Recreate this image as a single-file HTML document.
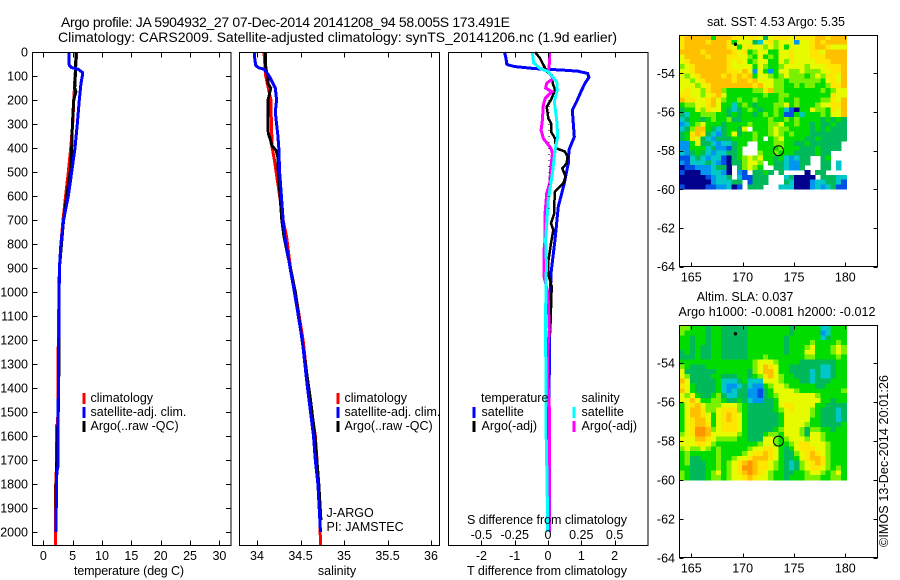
<!DOCTYPE html>
<html>
<head>
<meta charset="utf-8">
<style>
html,body{margin:0;padding:0;background:#fff;}
svg{display:block;}
text{font-family:"Liberation Sans",sans-serif;font-size:12.5px;fill:#000;}
.mid{text-anchor:middle;}
.end{text-anchor:end;}
.title{font-size:14px;}
.line{fill:none;shape-rendering:crispEdges;}
.crisp{shape-rendering:crispEdges;}
</style>
</head>
<body>
<svg id="chart" xmlns="http://www.w3.org/2000/svg" width="900" height="580" viewBox="0 0 900 580">
  <rect width="900" height="580" fill="#fff"/>
  <text class="title" x="61" y="27" textLength="449">Argo profile: JA 5904932_27 07-Dec-2014 20141208_94 58.005S 173.491E</text>
  <text class="title" x="58" y="42" textLength="559">Climatology: CARS2009. Satellite-adjusted climatology: synTS_20141206.nc (1.9d earlier)</text>

  <g id="layer-maps"></g>
  <g id="layer-lines"></g>
  <g id="layer-axes"></g>

  <text class="mid" x="129" y="575" textLength="110">temperature (deg C)</text>
  <text class="mid" x="337" y="575">salinity</text>
  <text class="mid" x="547" y="575" textLength="160">T difference from climatology</text>
  <text class="mid" x="547" y="524" textLength="160">S difference from climatology</text>

  <g>
    <rect class="crisp" x="82.5" y="393" width="3" height="11" fill="#ff0000"/>
    <rect class="crisp" x="82.5" y="407" width="3" height="11" fill="#0000ff"/>
    <rect class="crisp" x="82.5" y="421" width="3" height="11" fill="#000"/>
    <text x="90.5" y="402">climatology</text>
    <text x="90.5" y="416">satellite-adj. clim.</text>
    <text x="90.5" y="430">Argo(..raw -QC)</text>
  </g>
  <g>
    <rect class="crisp" x="336.5" y="393" width="3" height="11" fill="#ff0000"/>
    <rect class="crisp" x="336.5" y="407" width="3" height="11" fill="#0000ff"/>
    <rect class="crisp" x="336.5" y="421" width="3" height="11" fill="#000"/>
    <text x="344.5" y="402">climatology</text>
    <text x="344.5" y="416">satellite-adj. clim.</text>
    <text x="344.5" y="430">Argo(..raw -QC)</text>
  </g>
  <g>
    <text x="481" y="402">temperature</text>
    <text x="581.5" y="402">salinity</text>
    <rect class="crisp" x="472.5" y="407" width="3" height="11" fill="#0000ff"/>
    <rect class="crisp" x="472.5" y="421" width="3" height="11" fill="#000"/>
    <rect class="crisp" x="572.5" y="407" width="3" height="11" fill="#00ffff"/>
    <rect class="crisp" x="572.5" y="421" width="3" height="11" fill="#ff00ff"/>
    <text x="481.5" y="416">satellite</text>
    <text x="481.5" y="430">Argo(-adj)</text>
    <text x="581.5" y="416">satellite</text>
    <text x="581.5" y="430">Argo(-adj)</text>
  </g>
  <text x="326.5" y="517">J-ARGO</text>
  <text x="326.5" y="531">PI: JAMSTEC</text>

  <text class="mid" x="776" y="26" textLength="138">sat. SST: 4.53 Argo: 5.35</text>
  <text class="mid" x="745" y="301">Altim. SLA: 0.037</text>
  <text class="mid" x="777" y="316" textLength="197">Argo h1000: -0.0081 h2000: -0.012</text>
  <text x="0" y="0" transform="translate(888,547) rotate(-90)" textLength="172">©IMOS 13-Dec-2014 20:01:26</text>
</svg>

<script>
// ---- axis ticks ----
const depthTicks = [0,100,200,300,400,500,600,700,800,900,1000,1100,1200,1300,1400,1500,1600,1700,1800,1900,2000];
const tempTicks = [0,5,10,15,20,25,30];
const salTicks = [34,34.5,35,35.5,36];
const diffTTicks = [-2,-1,0,1,2];
const diffSTickLabels = ['-0.5','-0.25','0','0.25','0.5'];
const diffSTicks = [-0.5,-0.25,0,0.25,0.5];
const lonTicks = [165,170,175,180];
const latTicks = [54,56,58,60,62,64];

// ---- temperature profiles ----
const tClimDepth = [0,100,200,300,400,500,600,700,800,900,1000,1200,1400,1550,1555,1800,1805,2054];
const tClimVal = [5.7,5.4,5.2,5.0,4.67,4.26,3.8,3.35,3.0,2.75,2.67,2.55,2.5,2.45,2.25,2.2,2.05,2.05];
const tSatDepth = [0,30,55,65,72,85,100,130,200,300,400,500,600,700,800,900,1400,1725,1750,2000];
const tSatVal = [4.43,4.35,4.43,4.83,5.96,6.65,6.65,6.42,6.14,5.8,5.4,4.84,4.26,3.45,3.0,2.75,2.55,2.5,2.3,2.15];
const tArgoDepth = [0,100,150,165,200,300,400,500,600,700,900,1000,1450,1600,1850,2000];
const tArgoVal = [5.57,5.45,5.35,5.55,5.18,4.95,4.84,4.6,4.0,3.45,2.75,2.67,2.62,2.4,2.15,2.15];

// ---- salinity profiles ----
const sClimDepth = [0,50,100,150,200,300,400,450,500,550,600,700,770,900,1000,1200,1400,1500,1600,1700,1800,1900,2054];
const sClimVal = [34.08,34.09,34.1,34.13,34.16,34.165,34.175,34.2,34.22,34.24,34.26,34.3,34.34,34.385,34.44,34.53,34.59,34.63,34.67,34.69,34.7,34.72,34.73];
const sSatDepth = [0,30,55,65,72,85,100,150,200,250,300,350,400,500,600,700,770,900,1000,1200,1400,1500,1600,1700,1800,1900,2000];
const sSatVal = [33.97,33.975,33.985,34.015,34.08,34.11,34.14,34.21,34.225,34.21,34.225,34.24,34.25,34.26,34.28,34.3,34.32,34.38,34.43,34.52,34.58,34.615,34.65,34.67,34.7,34.715,34.73];
const sArgoDepth = [0,60,85,100,130,150,180,200,300,340,370,390,410,440,500,600,700,770,1000,1450,1600,1800,1950];
const sArgoVal = [34.1,34.1,34.11,34.13,34.125,34.157,34.14,34.126,34.126,34.13,34.157,34.17,34.22,34.24,34.245,34.265,34.285,34.31,34.44,34.615,34.665,34.71,34.735];

// ---- difference profiles ----
const dtSatDepth = [0,26,50,54,61,68,72,75,80,89,105,130,165,207,242,297,353,408,464,547,644,783,922,1089,1436,2000];
const dtSatVal = [-1.31,-1.26,-1.24,-1.19,-0.99,-0.49,-0.09,0.41,0.9,1.19,1.23,1.11,0.99,0.86,0.73,0.76,0.79,0.63,0.61,0.49,0.31,0.21,0.09,0.06,0.03,0.02];
const dtArgoDepth = [0,26,61,82,96,130,158,200,228,276,297,332,360,401,415,436,464,485,519,547,582,631,672,714,742,797,880,922,977,1158,1227,1400,2000];
const dtArgoVal = [-0.39,-0.24,-0.11,-0.04,0.11,0.14,0.21,0.09,-0.04,0.01,0.09,0.09,0.21,0.24,0.51,0.59,0.56,0.43,0.53,0.46,0.21,0.19,0.19,0.09,0.16,0.09,0.0,0.0,0.11,0.07,-0.01,0.0,0.0];
const dsSatDepth = [0,45,68,82,124,158,207,283,353,408,506,617,783,880,1089,1436,1561,1797,2000];
const dsSatVal = [-0.118,-0.108,-0.06,0.002,0.065,0.07,0.047,0.065,0.073,0.053,0.033,0.002,-0.018,-0.012,-0.018,-0.016,-0.015,-0.007,-0.002];
const dsArgoDepth = [0,45,82,110,130,151,165,193,221,283,325,360,401,422,478,547,589,672,783,825,936,1006,1158,1250,1350,1480,2000];
const dsArgoVal = [0.013,0.011,0.002,0.04,-0.01,-0.018,0.03,-0.02,-0.035,-0.042,-0.052,-0.035,0.022,0.033,0.022,0.013,-0.01,-0.022,-0.022,-0.03,-0.03,0,0.01,-0.003,-0.003,0.01,0.01];
const dotDepth = [200,225,250,275,300,325,350,375,400,425,450,475,500,525,550,600,650];
const dotVal = [0.005,0.005,0.005,0.005,0.005,0.004,0.003,0.003,0.003,0.003,0.003,0.003,0.003,0.003,0.003,0.003,0.003];

// ---- map colour levels (hex digit indexes this palette) ----
const mapPalette = ['#00008c','#0050e6','#0096f0','#00c8c8','#00b95a','#00dc00','#78f000','#e6fa00','#ffc000','#ff9600','#ffe600'];
const sstGrid = [
'a8888858 88aa7aa7 47aaa7aa aa88a888',
'a8888a88 8a577743 7a677727 7a8a8888',
'a8888888 8a757a77 67675777 7a88a777',
'8888a888 88a7a567 75577a77 7aa78888',
'78888a88 8aa77657 56577a77 7aaa8888',
'7a888888 8a7a7567 75576a77 77aaa888',
'67a88888 8a777757 65567777 6777aaa8',
'77a88888 8aa78727 52577667 66677aa8',
'767a8888 a8a8a857 76567666 5676aa78',
'7767a888 88a88a87 77665666 66657a78',
'77767a88 888888a8 77665565 66556aa8',
'7a776a88 65555566 a8665555 55565677',
'aa7767a8 75555555 65566555 55555a77',
'8aa77a87 65565565 55565565 55566a78',
'56677a87 55356545 55667565 55677aa8',
'45576a77 54345654 55653105 57665a78',
'43556665 54545545 65651153 55565778',
'34554565 56445555 56556565 55545454',
'23567555 45555655 56675565 54544544',
'34688543 45547.55 56766555 54545444',
'45a8a432 45745565 56765655 54444444',
'45a74324 44555565 .5675555 44544444',
'22574432 33455..5 55665544 5444444.',
'22555342 2145...5 55565554 4454444.',
'32454323 3445...6 55655544 44544...',
'11343233 10456767 55453234 4..45...',
'21333432 10446776 .5443224 4..44.3.',
'01122234 40.46765 ..443224 ...44.3.',
'10002233 20.21.44 54.4.... 0.44....',
'00000123 34.31144 4...3400 00.44433',
'00000023 3344.144 4...4300 02334431',
'10000112 2301.444 ...33300 02323411'
];
const slaGrid = [
'6655 5455 4444 4555 5555 5455 5553 3555',
'6555 5455 4444 4555 5555 5455 5552 3555',
'5545 5455 4444 4555 5555 4555 5553 4555',
'5545 5455 4444 4555 5555 4555 5655 5565',
'5545 4455 4444 4555 5555 4555 6755 5676',
'4545 4455 4444 4555 5555 4555 7755 5676',
'4445 4455 4444 4555 6555 5555 6655 5565',
'5555 5555 5555 5567 7765 5554 4444 4455',
'6544 4555 5555 5567 8a75 5444 4443 3455',
'7444 4445 5555 5467 8875 5444 4343 3455',
'7644 4455 4445 5456 a876 5544 4343 3455',
'8744 4445 3334 5333 7776 5554 4344 4555',
'a754 4445 3223 4322 5677 6555 5544 5555',
'8754 4445 3234 4221 4577 7765 5555 5556',
'7675 4456 4334 4221 4567 7777 7765 5555',
'7787 5566 5445 4322 4457 7777 7775 5455',
'57a8 7666 7776 5444 4457 aa77 7755 4444',
'5788 a667 aaa6 5444 4456 7a77 7654 4434',
'5788 a757 a8a7 5444 4445 7777 7654 4434',
'57a8 8757 a8a7 5444 4445 7777 7554 4434',
'57a8 8a57 aaa7 5444 4445 7777 6554 4445',
'57a9 9867 aaa7 5444 4456 7776 4665 5455',
'67a9 9877 7776 5444 5665 7776 4776 5555',
'7778 8a76 6665 5444 7765 6777 6776 5555',
'777a a765 5555 5556 7765 567a a777 6555',
'6766 7656 5555 5677 aa75 457a aa77 6555',
'5655 5556 5555 67aa 8a75 4467 a8a7 6555',
'5644 5556 5567 7a88 8a75 4457 a88a 6555',
'5644 4556 567a 898a a765 4346 7a8a 6555',
'5544 4556 567a 998a a765 4346 7aa7 6565',
'6544 4567 567a 898a 7655 4455 6776 5675',
'6544 4566 5677 a8a7 7655 4555 6665 5665'
];

// ---- float positions ----
const profileLon = [173.491];
const profileLat = [58.005];
const otherLon = [169.3];
const otherLat = [52.5];

// ---- axis functions ----
const NS = 'http://www.w3.org/2000/svg';
const yDepth = d => 52 + d * 0.24;
const xTemp = v => 43.3 + v * 5.87;
const xSal = v => 257 + (v - 34) * 87;
const xDiffT = v => 548 + v * 33.3;
const xDiffS = v => 548 + v * 133.2;
const xLon = v => 691.3 + (v - 165) * 10.27;
const ySst = v => 73.3 + (v - 54) * 19.33;
const ySla = v => 363 + (v - 54) * 19.5;

const axes = document.getElementById('layer-axes');
const lines = document.getElementById('layer-lines');
const maps = document.getElementById('layer-maps');

function svgEl(tag, parent) {
  const el = document.createElementNS(NS, tag);
  parent.appendChild(el);
  return el;
}
function drawText(str, x, y, cls, name) {
  const t = svgEl('text', axes);
  t.setAttribute('x', x);
  t.setAttribute('y', y);
  if (cls) t.setAttribute('class', cls);
  t.textContent = str;
  
  
}
function drawTick(x1, y1, x2, y2, name) {
  const l = svgEl('line', axes);
  l.setAttribute('x1', x1);
  l.setAttribute('y1', y1);
  l.setAttribute('x2', x2);
  l.setAttribute('y2', y2);
  l.setAttribute('stroke', '#000');
  l.setAttribute('class', 'crisp');
  
  
}
function drawFrame(x, y, w, h, name) {
  const r = svgEl('rect', axes);
  r.setAttribute('x', x);
  r.setAttribute('y', y);
  r.setAttribute('width', w);
  r.setAttribute('height', h);
  r.setAttribute('fill', 'none');
  r.setAttribute('stroke', '#000');
  r.setAttribute('class', 'crisp');
  
  
}
function drawSeries(vals, depths, xf, color, width, name) {
  const p = svgEl('polyline', lines);
  p.setAttribute('points', vals.map((v, i) => xf(v).toFixed(1) + ',' + yDepth(depths[i]).toFixed(1)).join(' '));
  p.setAttribute('stroke', color);
  p.setAttribute('stroke-width', width);
  p.setAttribute('class', 'line');
  
  
}
function drawGrid(rows, top, bottom, name) {
  const west = 163.85, east = 180.1;
  const clean = rows.map(r => r.replace(/ /g, ''));
  const ny = clean.length;
  clean.forEach((row, j) => {
    const nx = row.length;
    for (let i = 0; i < nx; i++) {
      const c = row[i];
      if (c === '.') continue;
      const x0 = xLon(west + (east - west) * i / nx);
      const x1 = xLon(west + (east - west) * (i + 1) / nx);
      const y0 = top + (bottom - top) * j / ny;
      const y1 = top + (bottom - top) * (j + 1) / ny;
      const r = svgEl('rect', maps);
      r.setAttribute('x', x0.toFixed(2));
      r.setAttribute('y', y0.toFixed(2));
      r.setAttribute('width', (x1 - x0 + 0.4).toFixed(2));
      r.setAttribute('height', (y1 - y0 + 0.4).toFixed(2));
      r.setAttribute('fill', mapPalette[parseInt(c, 16)]);
      r.setAttribute('class', 'crisp');
      
      
    }
  });
}
function drawMarker(lon, lat, yf, r, fill, name) {
  const c = svgEl('circle', axes);
  c.setAttribute('cx', xLon(lon));
  c.setAttribute('cy', yf(lat));
  c.setAttribute('r', r);
  c.setAttribute('fill', fill);
  c.setAttribute('stroke', '#000');
  
  
}

// ---- profile panels ----
const pTop = 52.5, pBot = 545.5;
drawFrame(32.5, pTop, 198.5, pBot - pTop, 'temperature-panel-frame');
drawFrame(239.5, pTop, 200, pBot - pTop, 'salinity-panel-frame');
drawFrame(448.5, pTop, 199.5, pBot - pTop, 'difference-panel-frame');

depthTicks.forEach(d => {
  const y = Math.round(yDepth(d)) + 0.5;
  drawTick(32.5, y, 37.5, y, 'depth-tick');
  drawTick(226, y, 231, y, 'depth-tick-right');
  drawText(String(d), 28, yDepth(d) + 4.5, 'end', 'depth-tick-label');
});
function xAxis(ticks, labels, xf, labelY, nameBase) {
  ticks.forEach((v, i) => {
    const x = Math.round(xf(v)) + 0.5;
    drawTick(x, pTop, x, pTop + 5, nameBase + '-tick-top');
    drawTick(x, pBot - 5, x, pBot, nameBase + '-tick-bottom');
    drawText(labels[i], xf(v), labelY, 'mid', nameBase + '-tick-label');
  });
}
xAxis(tempTicks, tempTicks.map(String), xTemp, 560, 'temperature');
xAxis(salTicks, salTicks.map(String), xSal, 560, 'salinity');
xAxis(diffTTicks, diffTTicks.map(String), xDiffT, 560, 't-difference');
diffSTicks.forEach((v, i) => {
  drawText(diffSTickLabels[i], xDiffS(v), 539, 'mid', 's-difference-tick-label');
});

drawSeries(tClimVal, tClimDepth, xTemp, '#ff0000', 3, 'temperature-climatology-line');
drawSeries(tArgoVal, tArgoDepth, xTemp, '#000', 3, 'temperature-argo-line');
drawSeries(tSatVal, tSatDepth, xTemp, '#0000ff', 3, 'temperature-satellite-line');

drawSeries(sClimVal, sClimDepth, xSal, '#ff0000', 3, 'salinity-climatology-line');
drawSeries(sArgoVal, sArgoDepth, xSal, '#000', 3, 'salinity-argo-line');
drawSeries(sSatVal, sSatDepth, xSal, '#0000ff', 3, 'salinity-satellite-line');

drawSeries(dtSatVal, dtSatDepth, xDiffT, '#0000ff', 3, 't-difference-satellite-line');
drawSeries(dtArgoVal, dtArgoDepth, xDiffT, '#000', 2.5, 't-difference-argo-line');
drawSeries(dsArgoVal, dsArgoDepth, xDiffS, '#ff00ff', 3, 's-difference-argo-line');
drawSeries(dsSatVal, dsSatDepth, xDiffS, '#00ffff', 3, 's-difference-satellite-line');
dotVal.forEach((v, i) => {
  const dot = svgEl('rect', lines);
  dot.setAttribute('x', xDiffS(v).toFixed(1));
  dot.setAttribute('y', yDepth(dotDepth[i]).toFixed(1));
  dot.setAttribute('width', 1);
  dot.setAttribute('height', 1);
  dot.setAttribute('class', 'crisp');
  
  
});

// ---- maps ----
drawGrid(sstGrid, 35, ySst(60), 'sst-cell');
drawGrid(slaGrid, 325.7, ySla(60), 'sla-cell');

function mapAxes(top, bottom, yf, base) {
  drawFrame(679.5, top, 198, bottom - top, base + '-map-frame');
  lonTicks.forEach(v => {
    const x = Math.round(xLon(v)) + 0.5;
    drawTick(x, top, x, top + 4, base + '-lon-tick-top');
    drawTick(x, bottom - 4, x, bottom, base + '-lon-tick-bottom');
    drawText(String(v), xLon(v), bottom + 15, 'mid', base + '-lon-label');
  });
  latTicks.forEach(v => {
    const y = Math.round(yf(v)) + 0.5;
    drawTick(679.5, y, 683.5, y, base + '-lat-tick-left');
    drawTick(873.5, y, 877.5, y, base + '-lat-tick-right');
    drawText('-' + v, 675, yf(v) + 4.5, 'end', base + '-lat-label');
  });
}
mapAxes(35.5, 266.5, ySst, 'sst');
mapAxes(325.5, 557.5, ySla, 'sla');

drawMarker(profileLon[0], profileLat[0], ySst, 5, 'none', 'sst-profile-marker');
drawMarker(profileLon[0], profileLat[0], ySla, 5, 'none', 'sla-profile-marker');
drawMarker(otherLon[0], otherLat[0], ySst, 1.2, '#000', 'sst-nearby-float-marker');
drawMarker(otherLon[0], otherLat[0], ySla, 1.2, '#000', 'sla-nearby-float-marker');
</script>
</body>
</html>
